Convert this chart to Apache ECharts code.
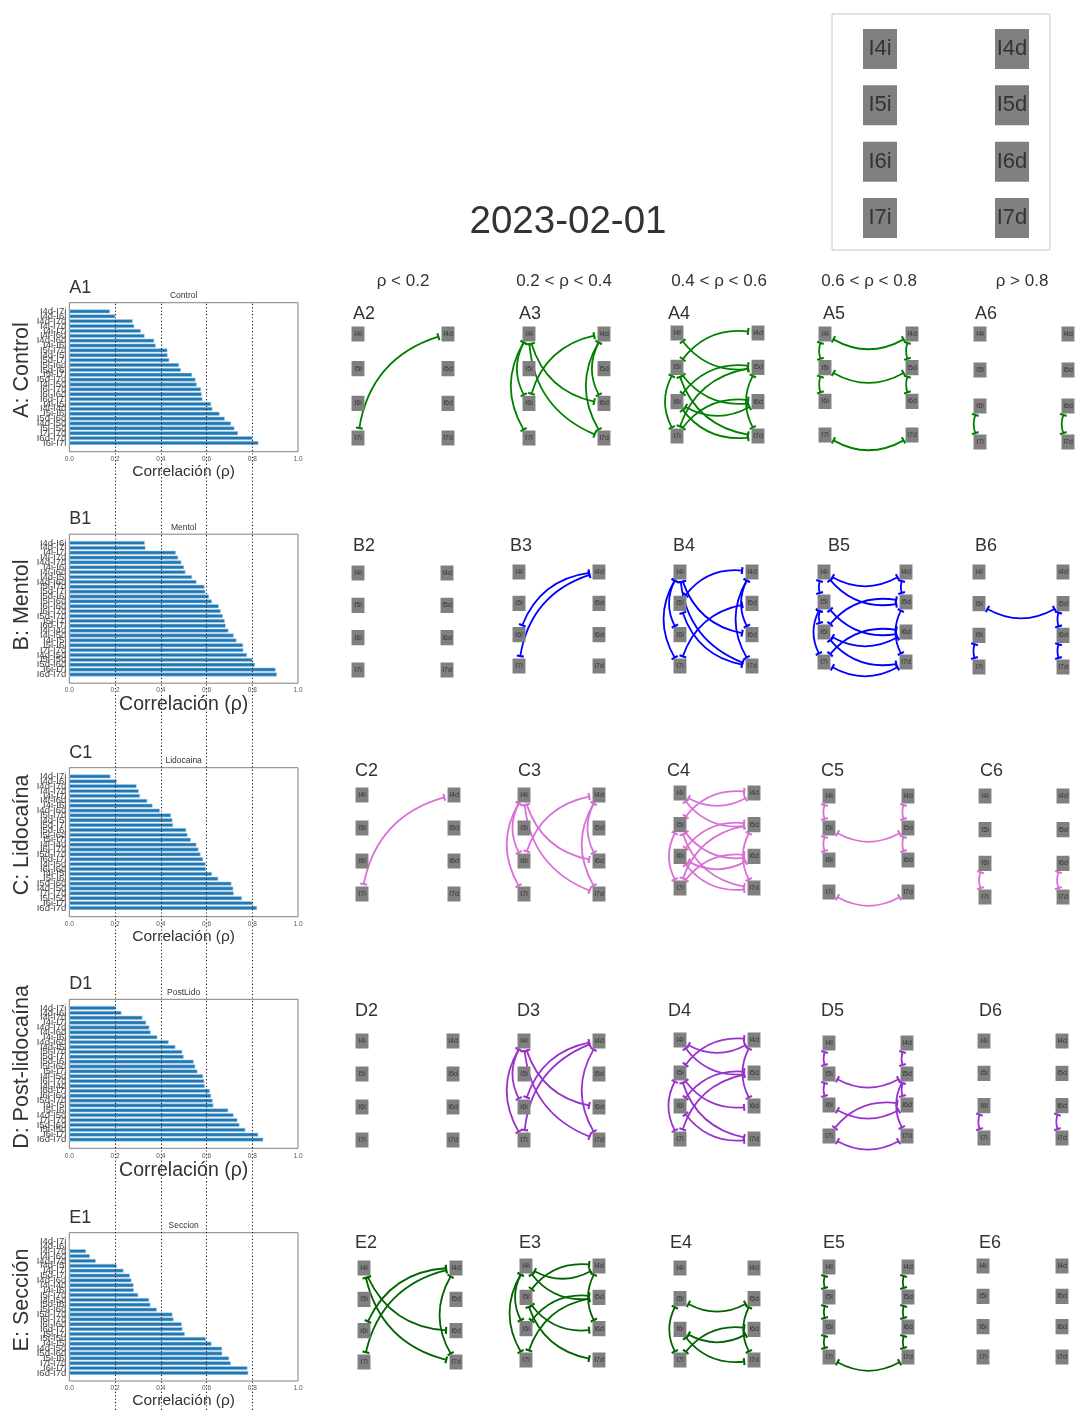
<!DOCTYPE html>
<html>
<head>
<meta charset="utf-8">
<script src="https://cdn.jsdelivr.net/npm/echarts@6/dist/echarts.min.js"></script>
<style>
html, body { margin: 0; padding: 0; background: #fff; }
#chart { width: 1076px; height: 1410px; }
</style>
</head>
<body>
<div id="chart"></div>
<script>
// ---- data ----
const nodeNames = ["I4i", "I5i", "I6i", "I7i", "I4d", "I5d", "I6d", "I7d"];
const binEdges = [0.2, 0.4, 0.6, 0.8];
const binTitles = ["ρ < 0.2", "0.2 < ρ < 0.4", "0.4 < ρ < 0.6", "0.6 < ρ < 0.8", "ρ > 0.8"];
const conditions = ["Control", "Mentol", "Lidocaina", "PostLido", "Seccion"];
const rowNames = ["A: Control", "B: Mentol", "C: Lidocaína", "D: Post-lidocaína", "E: Sección"];
const rowLetters = ["A", "B", "C", "D", "E"];
const refLines = [0.2, 0.4, 0.6, 0.8];
const dateTitle = "2023-02-01";

// pares ordenados de arriba a abajo (menor a mayor correlación)
const pairsControl = ["I4d-I7i", "I4d-I6i", "I4d-I7d", "I4i-I7d", "I4i-I7i", "I4i-I6d", "I4d-I6d", "I4i-I6i", "I5i-I7d", "I4d-I5i", "I5d-I7i", "I5i-I6d", "I5d-I6i", "I5i-I7i", "I5d-I7d", "I4i-I5d", "I6i-I7d", "I6i-I6d", "I6d-I7i", "I4i-I5i", "I4i-I4d", "I5i-I6i", "I5d-I6d", "I4d-I5d", "I5i-I5d", "I7i-I7d", "I6d-I7d", "I6i-I7i"];
const rhoControl = [0.178, 0.201, 0.277, 0.284, 0.313, 0.329, 0.371, 0.378, 0.429, 0.43, 0.437, 0.48, 0.488, 0.537, 0.552, 0.557, 0.576, 0.579, 0.582, 0.62, 0.626, 0.657, 0.68, 0.707, 0.722, 0.738, 0.801, 0.827];

const pairsMentol = ["I4d-I6i", "I4d-I7i", "I4i-I7i", "I4i-I7d", "I4d-I7d", "I4i-I6i", "I4i-I6d", "I4d-I5i", "I4d-I6d", "I5i-I7d", "I5d-I7i", "I5d-I6i", "I5i-I6d", "I6i-I6d", "I6i-I7d", "I5d-I7d", "I5i-I7i", "I6d-I7i", "I4i-I4d", "I4i-I5d", "I4i-I5i", "I5i-I6i", "I7i-I7d", "I4d-I5d", "I5i-I5d", "I5d-I6d", "I6i-I7i", "I6d-I7d"];
const rhoMentol = [0.33, 0.333, 0.466, 0.476, 0.49, 0.502, 0.508, 0.537, 0.556, 0.591, 0.595, 0.611, 0.624, 0.654, 0.662, 0.671, 0.68, 0.684, 0.696, 0.719, 0.731, 0.76, 0.761, 0.777, 0.801, 0.812, 0.902, 0.908];

const pairsLido = ["I4d-I7i", "I4d-I6i", "I4d-I7d", "I4i-I7d", "I4i-I7i", "I4i-I6d", "I4i-I6i", "I4d-I6d", "I5i-I7d", "I4d-I5i", "I5d-I7i", "I5d-I6i", "I5i-I6d", "I5i-I7i", "I4i-I4d", "I6i-I7d", "I5d-I7d", "I6d-I7i", "I4i-I5d", "I6i-I6d", "I4i-I5i", "I5i-I6i", "I5d-I6d", "I4d-I5d", "I7i-I7d", "I5i-I5d", "I6i-I7i", "I6d-I7d"];
const rhoLido = [0.18, 0.207, 0.294, 0.304, 0.309, 0.341, 0.364, 0.396, 0.445, 0.451, 0.454, 0.511, 0.517, 0.531, 0.556, 0.565, 0.574, 0.585, 0.596, 0.598, 0.624, 0.651, 0.709, 0.717, 0.719, 0.755, 0.802, 0.821];

const pairsPost = ["I4d-I7i", "I4d-I6i", "I4i-I7d", "I4i-I7i", "I4d-I7d", "I4i-I6d", "I4i-I6i", "I4d-I6d", "I4d-I5i", "I5i-I7d", "I5d-I7i", "I5d-I6i", "I5i-I6d", "I5i-I7i", "I4i-I5d", "I6i-I7d", "I4i-I4d", "I6d-I7i", "I6i-I6d", "I5d-I7d", "I4i-I5i", "I5i-I6i", "I4d-I5d", "I7i-I7d", "I5d-I6d", "I5i-I5d", "I6i-I7i", "I6d-I7d"];
const rhoPost = [0.203, 0.228, 0.32, 0.336, 0.35, 0.356, 0.385, 0.434, 0.464, 0.494, 0.5, 0.544, 0.551, 0.56, 0.585, 0.59, 0.592, 0.615, 0.62, 0.627, 0.63, 0.695, 0.718, 0.735, 0.744, 0.77, 0.826, 0.848];

const pairsSeccion = ["I4d-I7i", "I4d-I6i", "I4i-I7d", "I4i-I6d", "I4d-I7d", "I4d-I5i", "I4i-I7i", "I5d-I7i", "I4d-I6d", "I4i-I4d", "I4i-I6i", "I5i-I7d", "I4i-I5d", "I5d-I6i", "I5i-I6d", "I5d-I7d", "I6i-I7d", "I6i-I6d", "I6d-I7i", "I5i-I7i", "I5i-I5d", "I4i-I5i", "I4d-I5d", "I5d-I6d", "I5i-I6i", "I7i-I7d", "I6i-I7i", "I6d-I7d"];
const rhoSeccion = [0, 0, 0.073, 0.09, 0.116, 0.207, 0.237, 0.265, 0.272, 0.281, 0.282, 0.301, 0.349, 0.355, 0.383, 0.451, 0.456, 0.492, 0.495, 0.505, 0.597, 0.622, 0.668, 0.669, 0.699, 0.706, 0.779, 0.783];

const pairsByRow = [pairsControl, pairsMentol, pairsLido, pairsPost, pairsSeccion];
const rhoByRow = [rhoControl, rhoMentol, rhoLido, rhoPost, rhoSeccion];

// ---- layout ----
const FONT = "Liberation Sans, Arial, Helvetica, sans-serif";
const TXT = "#333";
const rowColors = ["#008000", "#0000ff", "#da70d6", "#9932cc", "#006400"];
const BAR_LEFT = 69.3, BAR_W = 228.7, BAR_H = 149;
const barTop = [302.7, 534.2, 767.7, 999.3, 1232.7];
const xNameSize = [15.5, 19.5, 15.5, 19.5, 15.5];
const xNameGap = [12, 9, 12, 9, 12];
const rowLabelY = [370, 605, 835, 1067, 1300];
const colTitleX = [403, 564, 719, 869, 1022];
// [izq, der, arriba, abajo] de los centros de nodos de cada panel
const netBoxes = [
  [[358, 448, 334, 438], [529, 604, 334, 438], [677, 758, 333, 436], [825, 912, 334, 435], [980, 1068, 334, 442]],
  [[358, 447, 573, 670], [519, 599, 572, 666], [680, 752, 572, 666], [824, 906, 572, 662], [979, 1063, 572, 667]],
  [[362, 454, 795, 894], [524, 599, 795, 894], [680, 754, 793, 888], [829, 908, 796, 892], [985, 1063, 796, 897]],
  [[362, 453, 1041, 1140], [524, 599, 1041, 1140], [680, 754, 1040, 1139], [829, 907, 1043, 1136], [984, 1062, 1041, 1138]],
  [[364, 456, 1268, 1362], [526, 599, 1266, 1360], [680, 754, 1268, 1360], [829, 908, 1267, 1357], [983, 1062, 1266, 1357]]
];
const netLabelPos = [
  [[353, 314], [519, 314], [668, 314], [823, 314], [975, 314]],
  [[353, 546], [510, 546], [673, 546], [828, 546], [975, 546]],
  [[355, 771], [518, 771], [667, 771], [821, 771], [980, 771]],
  [[355, 1011], [517, 1011], [668, 1011], [821, 1011], [979, 1011]],
  [[355, 1243], [519, 1243], [670, 1243], [823, 1243], [979, 1243]]
];
// "|" en cada extremo; las esquinas casi invisibles mantienen la caja cuadrada del símbolo
const BAR_SYMBOL = "path://M0,0L0.01,0L0,0.01ZM10,10L9.99,10L10,9.99ZM0,3.5L10,3.5L10,6.5L0,6.5Z";
// nodo gris con margen transparente, así las barras quedan un poco fuera del cuadro
const NODE_SYMBOL = "path://M0,0L0.01,0L0,0.01ZM10,10L9.99,10L10,9.99ZM1.6,1.4L8.4,1.4L8.4,8.6L1.6,8.6Z";

function binOf(v) {
  let b = 0;
  while (b < binEdges.length && v >= binEdges[b]) b++;
  return b;
}
function nodeData() {
  return nodeNames.map(n => ({
    name: n,
    value: [n.endsWith("i") ? 0 : 1, parseInt(n[1]) - 4]
  }));
}

const grid = [], xAxis = [], yAxis = [], series = [], graphic = [];
function addGrid(g, xa, ya) {
  grid.push(g);
  const i = grid.length - 1;
  xAxis.push(Object.assign({ gridIndex: i }, xa));
  yAxis.push(Object.assign({ gridIndex: i }, ya));
  return i;
}
function text(str, x, y, size, align, rotation) {
  graphic.push({
    type: "text", x: x, y: y, z: 100, silent: true, rotation: rotation || 0,
    style: { text: str, fontSize: size, fontFamily: FONT, fill: TXT, align: align || "center", verticalAlign: "middle" }
  });
}
const hiddenX = { type: "value", min: 0, max: 1, show: false };
const hiddenY = { type: "value", min: 0, max: 1, show: false };

// título y cabeceras
text(dateTitle, 568, 222, 38.5);
binTitles.forEach((t, c) => text(t, colTitleX[c], 281, 17));

// líneas punteadas de referencia que cruzan todas las barras
const li = addGrid({ left: BAR_LEFT, top: barTop[0], width: BAR_W, height: 1410 - barTop[0] }, hiddenX, hiddenY);
series.push({
  type: "line", xAxisIndex: li, yAxisIndex: li, data: [], z: 5, silent: true,
  markLine: {
    silent: true, symbol: ["none", "none"], label: { show: false },
    lineStyle: { type: [1.2, 2.2], color: "#222", width: 1.1 },
    data: refLines.map(v => ({ xAxis: v }))
  }
});

rowLetters.forEach((L, r) => {
  const pairs = pairsByRow[r], rho = rhoByRow[r];
  const top = barTop[r];

  // marco y eje x
  addGrid(
    { left: BAR_LEFT, top: top, width: BAR_W, height: BAR_H, show: true, borderColor: "#808080", borderWidth: 1, backgroundColor: "transparent" },
    {
      type: "value", min: 0, max: 1, interval: 0.2,
      axisLine: { show: false }, axisTick: { show: false }, splitLine: { show: false },
      axisLabel: { fontSize: 6.5, color: "#555", margin: 4, fontFamily: FONT, formatter: v => v.toFixed(1) },
      name: "Correlación (ρ)", nameLocation: "middle", nameGap: xNameGap[r],
      nameTextStyle: { fontSize: xNameSize[r], color: TXT, fontFamily: FONT }
    },
    hiddenY
  );
  // barras con margen de 5% arriba y abajo
  const inset = 1.29 * BAR_H / 30.58;
  const di = addGrid(
    { left: BAR_LEFT, top: top + inset, width: BAR_W, height: BAR_H - 2 * inset },
    hiddenX,
    {
      type: "category", inverse: true, data: pairs,
      axisLine: { show: false }, axisTick: { show: false },
      axisLabel: { interval: 0, fontSize: 9.5, color: "#444", margin: 3, fontFamily: FONT }
    }
  );
  series.push({
    type: "bar", xAxisIndex: di, yAxisIndex: di, data: rho, barCategoryGap: "20%", silent: true,
    itemStyle: { color: "#1f77b4", borderColor: "#a9cce6", borderWidth: 0.6 }
  });

  text(L + "1", BAR_LEFT, top - 15, 18, "left");
  text(conditions[r], BAR_LEFT + BAR_W / 2, top - 7, 8.5);
  text(rowNames[r], 22, rowLabelY[r], 21.5, "center", Math.PI / 2);

  // redes por rango de correlación
  for (let c = 0; c < 5; c++) {
    const box = netBoxes[r][c];
    const gi = addGrid(
      { left: box[0], top: box[2], width: box[1] - box[0], height: box[3] - box[2] },
      { type: "value", min: 0, max: 1, show: false },
      { type: "value", min: 0, max: 3, inverse: true, show: false }
    );
    const links = [];
    pairs.forEach((p, k) => {
      if (binOf(rho[k]) === c) {
        const ab = p.split("-");
        links.push({ source: ab[0], target: ab[1] });
      }
    });
    series.push({
      type: "graph", coordinateSystem: "cartesian2d", xAxisIndex: gi, yAxisIndex: gi,
      layout: "none", silent: true, animation: false,
      symbol: NODE_SYMBOL, symbolSize: [19, 21],
      itemStyle: { color: "#808080" },
      label: { show: true, position: "inside", fontSize: 7, color: TXT, fontFamily: FONT },
      edgeSymbol: [BAR_SYMBOL, BAR_SYMBOL], edgeSymbolSize: 7,
      lineStyle: { color: rowColors[r], width: 1.8, curveness: -0.35, opacity: 1 },
      emphasis: { disabled: true },
      data: nodeData(), links: links
    });
    const lp = netLabelPos[r][c];
    text(L + (c + 2), lp[0], lp[1], 18, "left");
  }
});

// leyenda de nodos
addGrid({ left: 832, top: 14, width: 218, height: 236, show: true, borderColor: "#c8c8c8", borderWidth: 1 }, hiddenX, hiddenY);
const lg = addGrid({ left: 880, top: 49, width: 132, height: 169 },
  { type: "value", min: 0, max: 1, show: false },
  { type: "value", min: 0, max: 3, inverse: true, show: false });
series.push({
  type: "graph", coordinateSystem: "cartesian2d", xAxisIndex: lg, yAxisIndex: lg,
  layout: "none", silent: true, symbol: "rect", symbolSize: [34, 40],
  itemStyle: { color: "#808080" },
  label: { show: true, position: "inside", fontSize: 22, color: TXT, fontFamily: FONT },
  data: nodeData(), links: []
});

const chart = echarts.init(document.getElementById("chart"));
chart.setOption({
  animation: false,
  textStyle: { fontFamily: FONT },
  grid: grid, xAxis: xAxis, yAxis: yAxis, series: series, graphic: graphic
});
</script>
</body>
</html>
